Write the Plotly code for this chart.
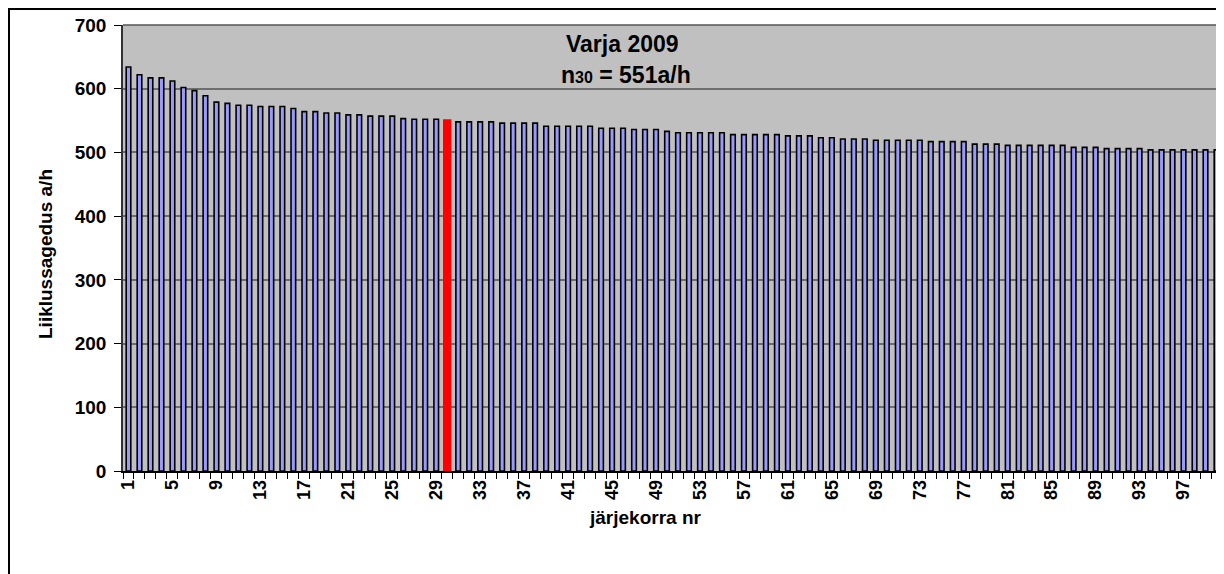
import plotly.graph_objects as go

positions = list(range(1, 101))
values = [634, 622, 617, 617, 612, 602, 597, 589, 579, 577,
          574, 574, 572, 572, 572, 569, 564, 564, 562, 562,
          559, 559, 557, 557, 557, 553, 552, 552, 552, 551,
          548, 548, 548, 548, 546, 546, 546, 546, 541, 541,
          541, 541, 541, 538, 538, 538, 536, 536, 536, 533,
          531, 531, 531, 531, 531, 528, 528, 528, 528, 528,
          526, 526, 526, 523, 523, 521, 521, 521, 519, 519,
          519, 519, 519, 517, 517, 517, 517, 513, 513, 513,
          511, 511, 511, 511, 511, 511, 508, 508, 508, 506,
          506, 506, 506, 504, 504, 504, 504, 504, 504, 504]
highlight = 30
tick_labels = [str(v) for v in range(1, 101, 4)]
title_line1 = "Varja 2009"
title_line2 = "n<span style='font-size:16px'>30</span> = 551a/h"
y_title = "Liiklussagedus a/h"
x_title = "järjekorra nr"

OFF = 8  # default page margin of the html body
W, H = 1216, 566
L, R, T, B = 115, 2, 17, 103
pw, ph = W - L - R, H - T - B

def px_x(x):
    return (x - OFF - L) / pw

def px_y(y):
    return (H - B - (y - OFF)) / ph

fill = ["#FF0000" if p == highlight else "#9999FF" for p in positions]
edge = ["#FF0000" if p == highlight else "#000000" for p in positions]
widths = [0.62 if p == highlight else 0.42 for p in positions]

FONT = "Liberation Sans, Arial, sans-serif"

fig = go.Figure(go.Bar(
    x=positions, y=values, width=widths,
    marker=dict(color=fill, line=dict(color=edge, width=1.6)),
    hoverinfo="x+y",
))

fig.update_layout(
    width=W, height=H,
    margin=dict(l=L, r=R, t=T, b=B),
    paper_bgcolor="white", plot_bgcolor="#C0C0C0",
    showlegend=False,
    font=dict(family=FONT, color="black"),
    xaxis=dict(
        range=[0.5, 100.5], tickmode="array",
        tickvals=list(range(1, 101, 4)), ticktext=tick_labels,
        tickangle=-90, ticks="", showgrid=False, zeroline=False,
        tickfont=dict(family=FONT, size=18, weight="bold"),
        showline=True, linecolor="black", linewidth=1.5,
        minor=dict(tickmode="array", tickvals=[p + 0.5 for p in [0] + positions],
                   ticks="outside", ticklen=6, tickcolor="black", tickwidth=1, showgrid=False),
    ),
    yaxis=dict(
        range=[0, 700], tickmode="linear", tick0=0, dtick=100,
        ticks="outside", ticklen=7, tickcolor="black",
        showgrid=True, gridcolor="#6E6E6E", gridwidth=1.6, zeroline=False,
        showline=True, linecolor="#333333", linewidth=1.5,
        tickfont=dict(family=FONT, size=19, weight="bold"),
        ticklabelstandoff=4,
    ),
    shapes=[
        dict(type="line", xref="paper", yref="paper", x0=1, x1=1, y0=0, y1=1,
             line=dict(color="#555555", width=1.5)),
        dict(type="line", xref="paper", yref="paper", x0=0, x1=1, y0=1, y1=1,
             line=dict(color="#555555", width=1.5)),
        dict(type="rect", xref="paper", yref="paper",
             x0=px_x(OFF + 1), x1=px_x(1240), y0=px_y(590), y1=px_y(OFF + 1),
             line=dict(color="black", width=2), fillcolor="rgba(0,0,0,0)", layer="below"),
    ],
    annotations=[
        dict(text=title_line1, xref="paper", yref="paper", x=px_x(622), y=px_y(44),
             showarrow=False, font=dict(family=FONT, size=23, weight="bold"),
             xanchor="center", yanchor="middle"),
        dict(text=title_line2, xref="paper", yref="paper", x=px_x(626), y=px_y(75),
             showarrow=False, font=dict(family=FONT, size=23, weight="bold"),
             xanchor="center", yanchor="middle"),
        dict(text=y_title, xref="paper", yref="paper", x=px_x(45), y=px_y(254),
             textangle=-90, showarrow=False,
             font=dict(family=FONT, size=19, weight="bold"),
             xanchor="center", yanchor="middle"),
        dict(text=x_title, xref="paper", yref="paper", x=px_x(645), y=px_y(517),
             showarrow=False, font=dict(family=FONT, size=19, weight="bold"),
             xanchor="center", yanchor="middle"),
    ],
)

fig.write_html("out.html")
